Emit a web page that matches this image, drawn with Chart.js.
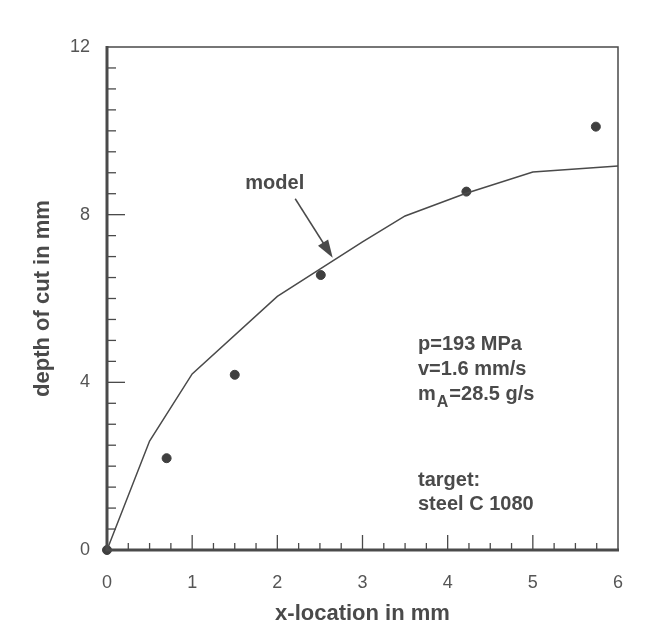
<!DOCTYPE html>
<html>
<head>
<meta charset="utf-8">
<script src="https://cdn.jsdelivr.net/npm/chart.js@4"></script>
<style>
  html, body { margin: 0; padding: 0; background: #fff; }
  #wrap { width: 666px; height: 639px; }
</style>
</head>
<body>
<div id="wrap"><canvas id="cutChart" width="666" height="639"></canvas></div>
<script>
// measured depth of cut (dots)
const measX = [0, 0.70, 1.50, 2.51, 4.22, 5.74];
const measY = [0, 2.19, 4.18, 6.56, 8.55, 10.10];

// model curve (solid line)
const modelX = [0, 0.5, 1.0, 2.0, 3.0, 3.5, 4.2, 5.0, 6.0];
const modelY = [0, 2.6, 4.2, 6.05, 7.35, 7.97, 8.5, 9.02, 9.16];

// axis ranges / tick labels
const xTicks = [0, 1, 2, 3, 4, 5, 6];
const yTicks = [0, 4, 8, 12];

// annotation text
const paramLines = ['p=193 MPa', 'v=1.6 mm/s'];
const massLine = ['m', 'A', '=28.5 g/s'];
const targetLines = ['target:', 'steel C 1080'];

const ink = '#4a4a4a';
const FONT = '"Liberation Sans", Arial, Helvetica, sans-serif';

// Frame, inward ticks, arrow and text
const decorPlugin = {
  id: 'decor',
  afterDraw(chart) {
    const ctx = chart.ctx;
    const xs = chart.scales.x, ys = chart.scales.y;
    const a = chart.chartArea;
    ctx.save();
    ctx.strokeStyle = ink;
    ctx.lineCap = 'butt';

    // thin top and right border
    ctx.lineWidth = 1.5;
    ctx.beginPath();
    ctx.moveTo(a.left, a.top); ctx.lineTo(a.right, a.top); ctx.lineTo(a.right, a.bottom);
    ctx.stroke();
    // heavy bottom and left axis
    ctx.lineWidth = 3;
    ctx.beginPath();
    ctx.moveTo(a.left, a.top - 1); ctx.lineTo(a.left, a.bottom); ctx.lineTo(a.right + 1, a.bottom);
    ctx.stroke();

    // x ticks, every 0.25, pointing up
    ctx.lineWidth = 1.3;
    for (let i = 1; i < 24; i++) {
      const px = xs.getPixelForValue(i * 0.25);
      const len = (i % 4 === 0) ? 15 : 7;
      ctx.beginPath();
      ctx.moveTo(px, a.bottom); ctx.lineTo(px, a.bottom - len);
      ctx.stroke();
    }
    // y ticks, every 0.5, pointing right
    for (let i = 1; i < 24; i++) {
      const py = ys.getPixelForValue(i * 0.5);
      const len = (i % 8 === 0) ? 18 : 9;
      ctx.beginPath();
      ctx.moveTo(a.left, py); ctx.lineTo(a.left + len, py);
      ctx.stroke();
    }

    // "model" label and arrow
    ctx.fillStyle = ink;
    ctx.font = 'bold 20px ' + FONT;
    ctx.textAlign = 'center';
    ctx.textBaseline = 'middle';
    ctx.fillText('model', xs.getPixelForValue(1.97), ys.getPixelForValue(8.75));

    const x0 = xs.getPixelForValue(2.21), y0 = ys.getPixelForValue(8.38);
    const x1 = xs.getPixelForValue(2.65), y1 = ys.getPixelForValue(6.97);
    const ang = Math.atan2(y1 - y0, x1 - x0);
    ctx.lineWidth = 1.5;
    ctx.beginPath();
    ctx.moveTo(x0, y0);
    ctx.lineTo(x1 - 14 * Math.cos(ang), y1 - 14 * Math.sin(ang));
    ctx.stroke();
    ctx.beginPath();
    ctx.moveTo(x1, y1);
    ctx.lineTo(x1 - 18 * Math.cos(ang) + 6 * Math.sin(ang), y1 - 18 * Math.sin(ang) - 6 * Math.cos(ang));
    ctx.lineTo(x1 - 18 * Math.cos(ang) - 6 * Math.sin(ang), y1 - 18 * Math.sin(ang) + 6 * Math.cos(ang));
    ctx.closePath();
    ctx.fill();

    // parameter block
    ctx.textAlign = 'left';
    ctx.textBaseline = 'alphabetic';
    const tx = 418;
    ctx.fillText(paramLines[0], tx, 350);
    ctx.fillText(paramLines[1], tx, 375);
    let cx = tx;
    ctx.fillText(massLine[0], cx, 400);
    cx += ctx.measureText(massLine[0]).width + 1;
    ctx.font = 'bold 16px ' + FONT;
    ctx.fillText(massLine[1], cx, 407);
    cx += ctx.measureText(massLine[1]).width + 1;
    ctx.font = 'bold 20px ' + FONT;
    ctx.fillText(massLine[2], cx, 400);
    ctx.fillText(targetLines[0], tx, 486);
    ctx.fillText(targetLines[1], tx, 510);

    ctx.restore();
  }
};

new Chart(document.getElementById('cutChart'), {
  type: 'scatter',
  data: {
    datasets: [{
      label: 'model',
      type: 'line',
      data: modelX.map((x, i) => ({ x: x, y: modelY[i] })),
      borderColor: ink,
      borderWidth: 1.5,
      pointRadius: 0,
      fill: false,
      tension: 0,
      clip: false
    }, {
      label: 'measured',
      data: measX.map((x, i) => ({ x: x, y: measY[i] })),
      backgroundColor: '#3f3f3f',
      borderColor: '#3f3f3f',
      pointRadius: 4.5,
      clip: false
    }]
  },
  options: {
    responsive: false,
    animation: false,
    layout: { padding: { left: 0, top: 47, right: 48, bottom: 0 } },
    plugins: {
      legend: { display: false },
      tooltip: { enabled: false }
    },
    scales: {
      x: {
        type: 'linear',
        min: 0, max: 6,
        afterFit: (s) => { s.height = 89; },
        afterBuildTicks: (s) => { s.ticks = xTicks.map(v => ({ value: v })); },
        grid: { display: false, drawTicks: false },
        border: { display: false },
        ticks: { color: '#555', font: { family: FONT, size: 18 }, padding: 22 },
        title: {
          display: true, text: 'x-location in mm', color: ink,
          font: { family: FONT, size: 22, weight: 'bold' },
          padding: { top: 0, bottom: 12 }
        }
      },
      y: {
        type: 'linear',
        min: 0, max: 12,
        afterFit: (s) => { s.width = 107; },
        afterBuildTicks: (s) => { s.ticks = yTicks.map(v => ({ value: v })); },
        grid: { display: false, drawTicks: false },
        border: { display: false },
        ticks: { color: '#555', font: { family: FONT, size: 18 }, padding: 17 },
        title: {
          display: true, text: 'depth of cut in mm', color: ink,
          font: { family: FONT, size: 22, weight: 'bold' },
          padding: { top: 30, bottom: 0 }
        }
      }
    }
  },
  plugins: [decorPlugin]
});
</script>
</body>
</html>
